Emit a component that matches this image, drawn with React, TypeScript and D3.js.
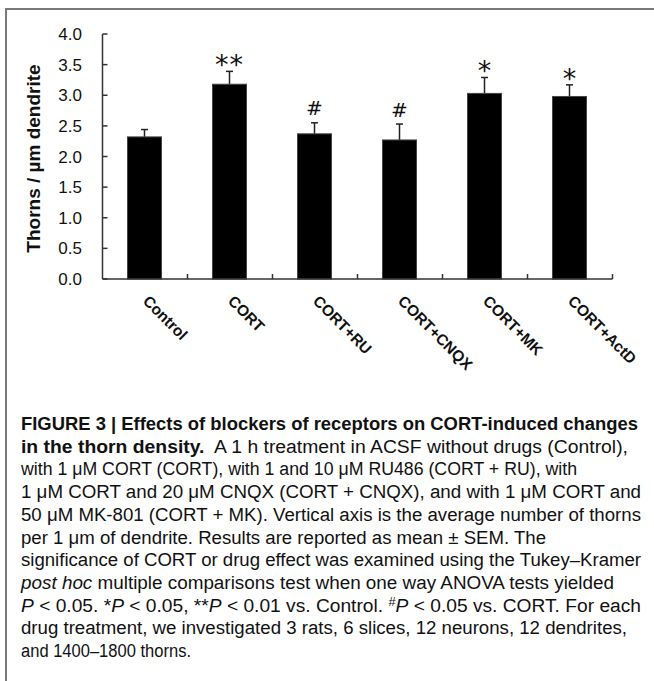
import React from "react";
import * as d3 from "d3";

const categories = ["Control", "CORT", "CORT+RU", "CORT+CNQX", "CORT+MK", "CORT+ActD"];
const means = [2.32, 3.18, 2.37, 2.27, 3.03, 2.98];
const sems = [0.12, 0.21, 0.18, 0.26, 0.26, 0.19];
const markers = ["", "**", "#", "#", "*", "*"];
const yTicks = [0, 0.5, 1.0, 1.5, 2.0, 2.5, 3.0, 3.5, 4.0];
const yTitle = "Thorns / µm dendrite";

type Seg = { t: string; b?: boolean; i?: boolean; sup?: boolean };
const captionLines: Seg[][] = [
  [{ t: "FIGURE 3 | Effects of blockers of receptors on CORT-induced changes", b: true }],
  [{ t: "in the thorn density.", b: true }, { t: "\u00a0 A 1 h treatment in ACSF without drugs (Control)," }],
  [{ t: "with 1 μM CORT (CORT), with 1 and 10 μM RU486 (CORT + RU), with" }],
  [{ t: "1 μM CORT and 20 μM CNQX (CORT + CNQX), and with 1 μM CORT and" }],
  [{ t: "50 μM MK-801 (CORT + MK). Vertical axis is the average number of thorns" }],
  [{ t: "per 1 μm of dendrite. Results are reported as mean ± SEM. The" }],
  [{ t: "significance of CORT or drug effect was examined using the Tukey–Kramer" }],
  [{ t: "post hoc", i: true }, { t: " multiple comparisons test when one way ANOVA tests yielded" }],
  [
    { t: "P", i: true },
    { t: " < 0.05. *" },
    { t: "P", i: true },
    { t: " < 0.05, **" },
    { t: "P", i: true },
    { t: " < 0.01 vs. Control. " },
    { t: "#", sup: true },
    { t: "P", i: true },
    { t: " < 0.05 vs. CORT. For each" },
  ],
  [{ t: "drug treatment, we investigated 3 rats, 6 slices, 12 neurons, 12 dendrites," }],
  [{ t: "and 1400–1800 thorns." }],
];
// right end of each caption line (layout)
const captionRight = [638, 628, 577, 641, 641, 546, 641, 614, 641, 627, 191];

const W = 654;
const H = 681;
const PLOT = { left: 102.5, right: 612.5, top: 34, bottom: 279 };
const CAP_X = 21;
const CAP_Y0 = 430;
const CAP_DY = 22.7;

export default function App() {
  const x = d3.scaleBand<string>().domain(categories).range([PLOT.left, PLOT.right]).padding(0);
  const y = d3.scaleLinear().domain([0, 4]).range([PLOT.bottom, PLOT.top]);
  const barW = 34;
  const axisColor = "#333";
  const boundaries = categories.map((c) => (x(c) as number) + x.bandwidth());

  return (
    <svg
      width={W}
      height={H}
      style={{ position: "absolute", left: 0, top: 0, background: "#fff" }}
      fontFamily="'Liberation Sans', Arial, sans-serif"
    >
      <rect x={0} y={0} width={W} height={H} fill="#fff" />
      {/* frame */}
      <path d={`M6,${H} L6,9 L${W},9`} fill="none" stroke="#7a7a7a" strokeWidth={2} />

      {/* bars */}
      {categories.map((c, i) => {
        const cx = (x(c) as number) + x.bandwidth() / 2 - 0.5;
        const top = y(means[i]);
        const eTop = y(means[i] + sems[i]);
        const isHash = markers[i] === "#";
        return (
          <g key={c}>
            <line x1={cx} x2={cx} y1={top} y2={eTop} stroke="#222" strokeWidth={1.5} />
            <line x1={cx - 3.5} x2={cx + 3.5} y1={eTop} y2={eTop} stroke="#222" strokeWidth={1.5} />
            <rect
              x={cx - barW / 2}
              y={top}
              width={barW}
              height={y(0) - top}
              fill="#000"
              stroke="#444"
              strokeWidth={1}
            />
            {markers[i] && (
              <text
                x={cx}
                y={isHash ? eTop - 7.5 : eTop + 3}
                textAnchor="middle"
                fontSize={isHash ? 20 : 27}
                letterSpacing={markers[i] === "**" ? 1 : 0}
                fontFamily="'DejaVu Sans', sans-serif"
                fill="#111"
              >
                {markers[i]}
              </text>
            )}
          </g>
        );
      })}

      {/* axes */}
      <line x1={PLOT.left} x2={PLOT.left} y1={PLOT.top} y2={PLOT.bottom} stroke={axisColor} strokeWidth={1.5} />
      <line x1={PLOT.left} x2={PLOT.right} y1={PLOT.bottom} y2={PLOT.bottom} stroke={axisColor} strokeWidth={1.5} />
      {yTicks.map((t) => (
        <g key={t}>
          <line x1={PLOT.left} x2={PLOT.left + 5} y1={y(t)} y2={y(t)} stroke={axisColor} strokeWidth={1.5} />
          <text x={82} y={y(t)} dy="0.36em" textAnchor="end" fontSize={17} fill="#111">
            {t.toFixed(1)}
          </text>
        </g>
      ))}
      {boundaries.map((b, i) => (
        <line key={i} x1={b} x2={b} y1={PLOT.bottom} y2={PLOT.bottom - 5} stroke={axisColor} strokeWidth={1.5} />
      ))}

      {/* y title */}
      <text
        transform={`translate(40, ${(PLOT.top + PLOT.bottom) / 2 + 2}) rotate(-90)`}
        textAnchor="middle"
        fontSize={19}
        fontWeight="bold"
        fill="#111"
      >
        {yTitle}
      </text>

      {/* category labels */}
      {categories.map((c) => {
        const cx = (x(c) as number) + x.bandwidth() / 2;
        return (
          <text
            key={c}
            transform={`translate(${cx - 3}, 302) rotate(45)`}
            fontSize={15.5}
            fontWeight="bold"
            fill="#111"
          >
            {c}
          </text>
        );
      })}

      {/* caption */}
      <g fontFamily="'Liberation Sans Narrow', 'Arial Narrow', 'Liberation Sans', sans-serif" fontSize={18} fill="#111">
        {captionLines.map((segs, li) => {
          const right = captionRight[li];
          const extra = right > 0 ? { textLength: right - CAP_X, lengthAdjust: "spacingAndGlyphs" } : {};
          return (
            <text key={li} x={CAP_X} y={CAP_Y0 + li * CAP_DY} {...(extra as any)}>
              {segs.map((s, si) =>
                s.sup ? (
                  <tspan key={si} fontSize={12} dy={-6}>
                    {s.t}
                  </tspan>
                ) : (
                  <tspan
                    key={si}
                    fontWeight={s.b ? "bold" : "normal"}
                    fontStyle={s.i ? "italic" : "normal"}
                    dy={si > 0 && segs[si - 1].sup ? 6 : 0}
                  >
                    {s.t}
                  </tspan>
                )
              )}
            </text>
          );
        })}
      </g>
    </svg>
  );
}
